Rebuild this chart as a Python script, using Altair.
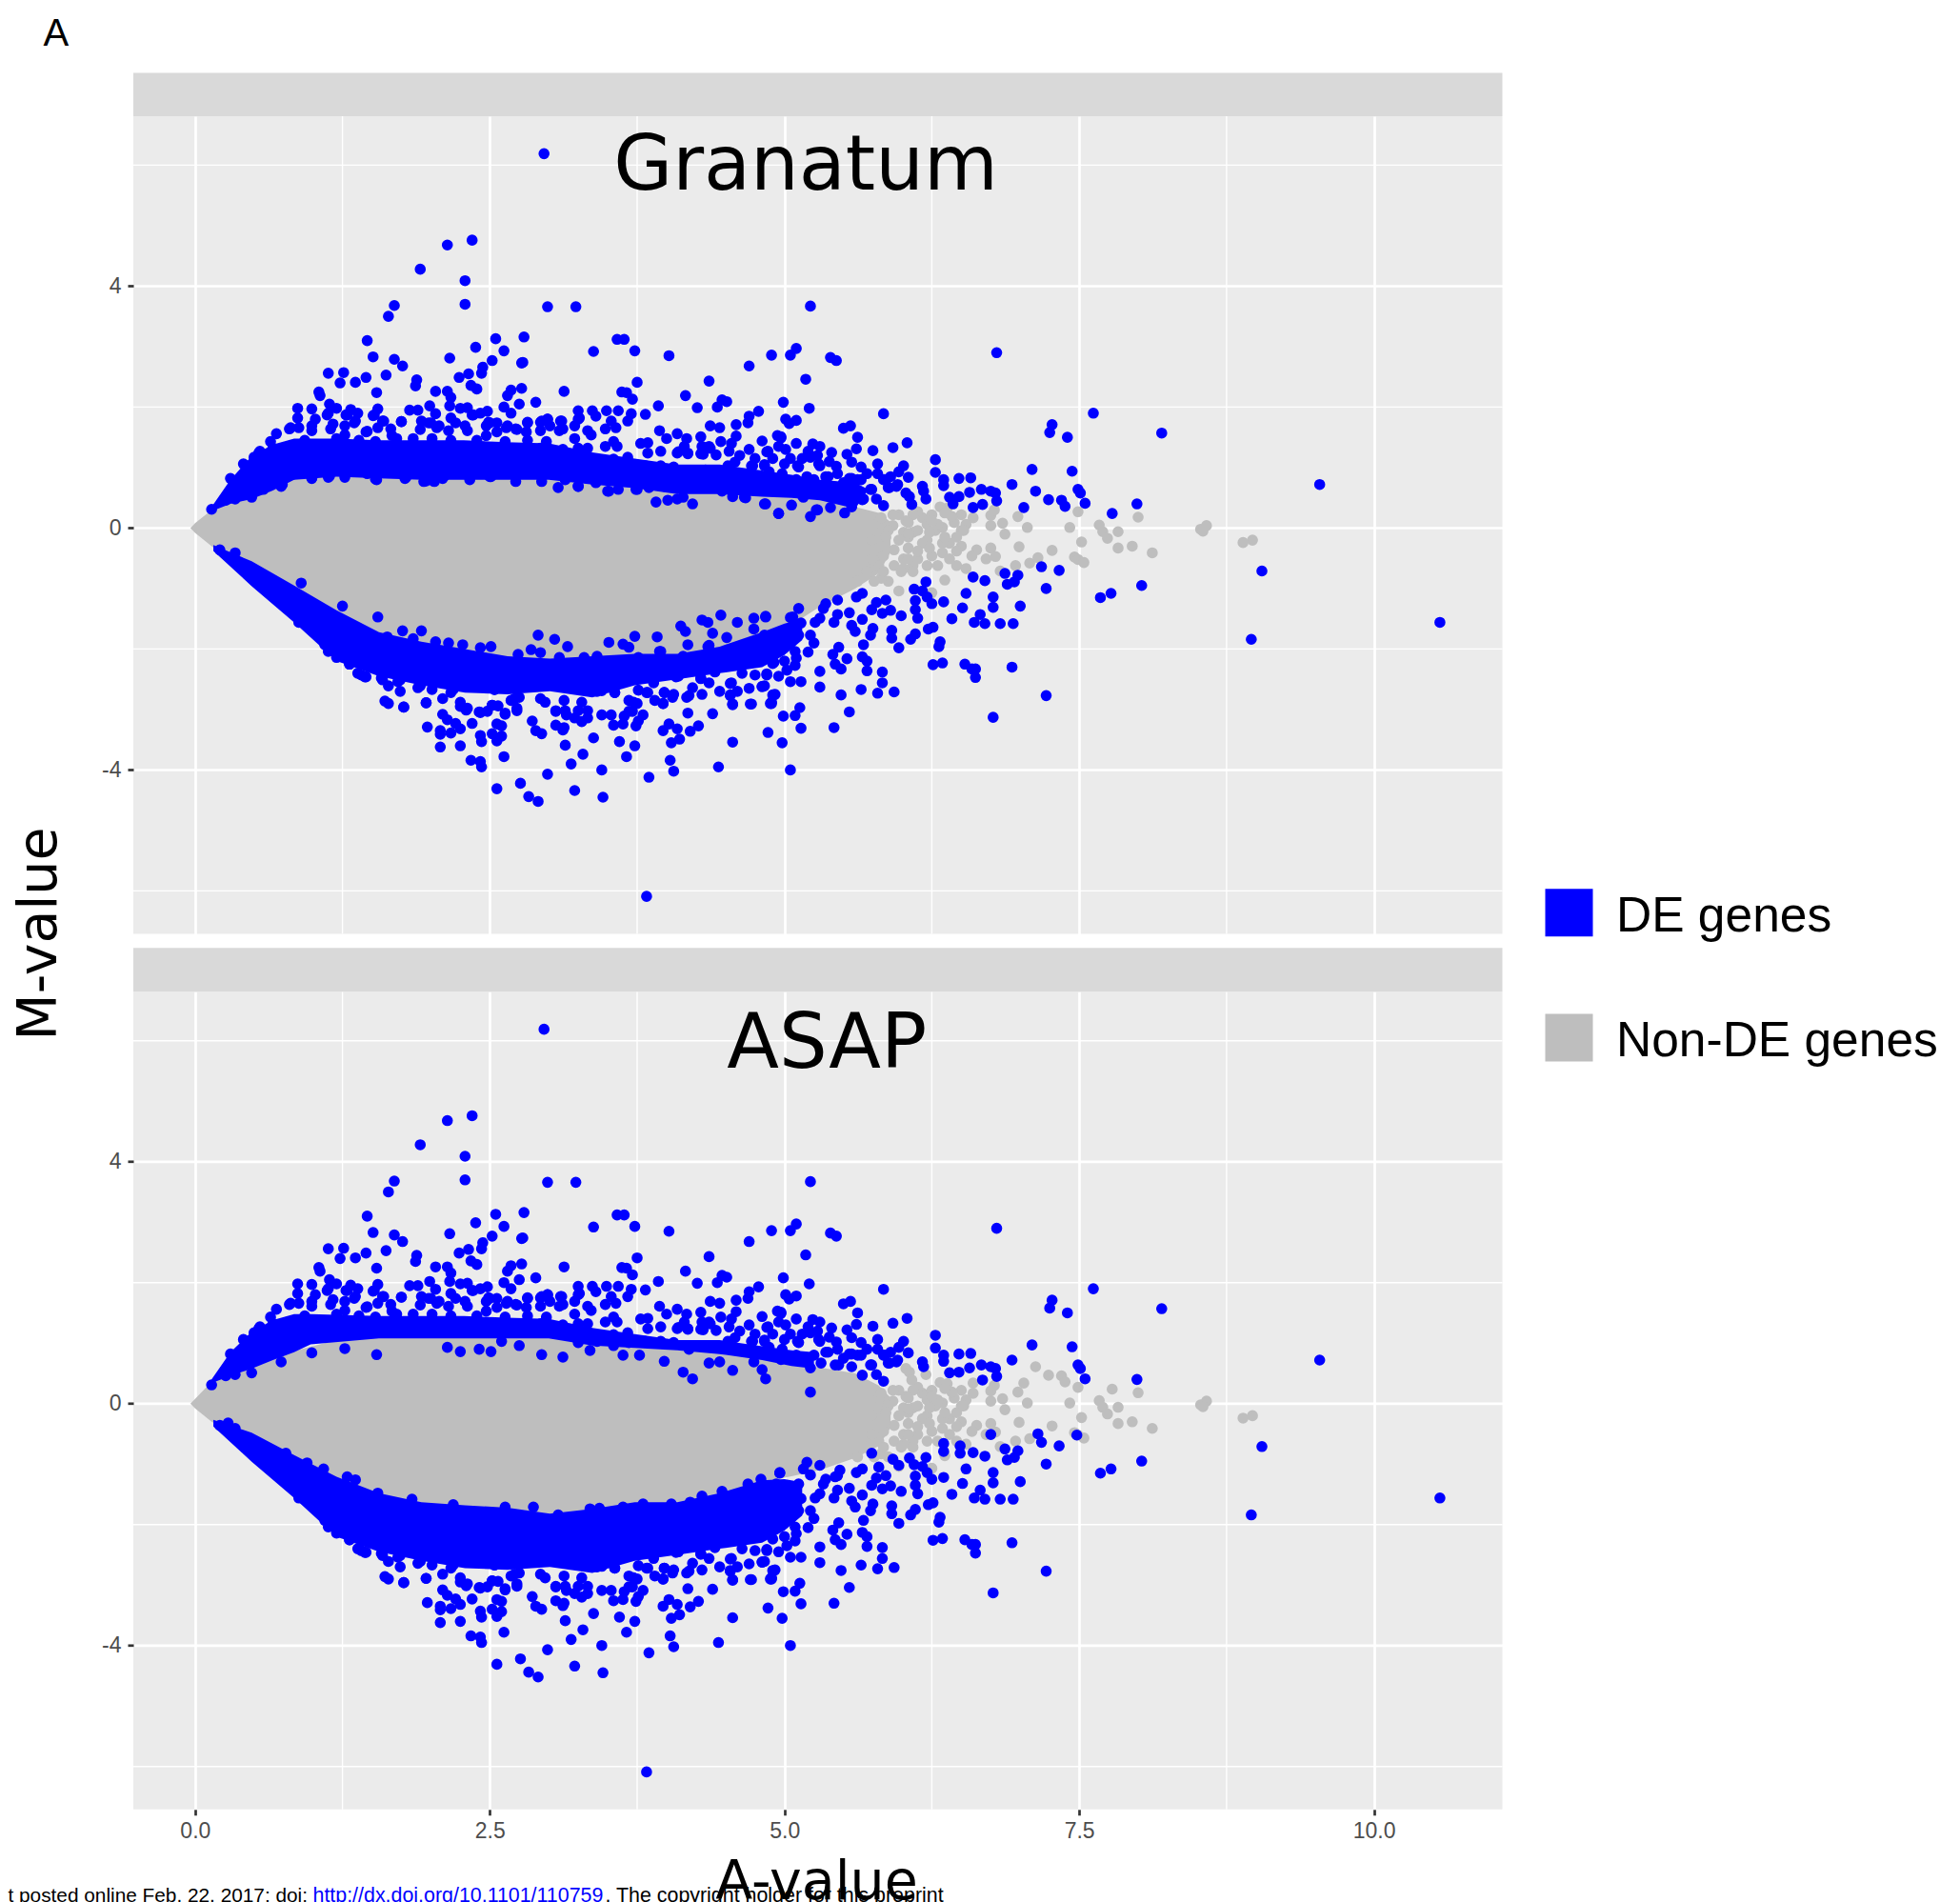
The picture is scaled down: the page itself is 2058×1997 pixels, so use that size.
import altair as alt
import pandas as pd

# ---- points that are DE (blue) in both panels: upper side
blue_upper = [
(2.96,6.19),(2.35,4.76),(2.14,4.68),(1.91,4.28),(2.29,4.09),(2.29,3.70),(1.69,3.68),(1.64,3.50),(2.99,3.66),(3.23,3.66),
(1.46,3.10),(2.55,3.13),(2.79,3.16),(2.38,2.99),(2.62,2.93),(1.51,2.83),(1.69,2.79),(1.76,2.68),(2.16,2.81),(2.52,2.77),
(2.77,2.73),(2.78,2.74),(2.44,2.66),(2.43,2.56),(3.38,2.92),(3.58,3.12),(3.64,3.12),(3.73,2.93),(4.02,2.85),(4.89,2.86),
(5.05,2.86),(4.70,2.68),(1.13,2.56),(1.26,2.57),(1.23,2.40),(1.36,2.41),(1.45,2.49),(1.62,2.53),(1.88,2.45),(1.87,2.35),
(2.24,2.49),(2.32,2.55),(2.34,2.36),(2.39,2.30),(2.04,2.26),(2.14,2.26),(2.17,2.16),(1.05,2.25),(1.06,2.19),(1.54,2.24),
(2.77,2.31),(2.68,2.28),(2.65,2.19),(2.89,2.08),(2.75,2.05),(2.62,2.00),(3.13,2.26),(3.75,2.41),(3.62,2.25),(3.66,2.24),
(3.71,2.13),(4.36,2.43),(4.16,2.19),(4.26,1.99),(3.93,2.02),(4.47,2.12),(4.51,2.09),(4.43,2.00),(4.99,2.08),(4.78,1.93),
(4.70,1.85),(4.69,1.74),(4.59,1.71),(5.01,1.80),(0.87,1.98),(0.87,1.82),(0.99,1.97),(1.14,2.05),(1.13,1.90),(1.20,1.98),
(1.32,1.96),(1.29,1.87),(1.38,1.90),(1.55,1.97),(1.52,1.87),(1.82,1.95),(1.89,1.95),(1.99,2.02),(2.04,1.89),(2.16,2.02),
(2.17,1.82),(2.25,1.98),(2.31,1.99),(2.36,1.87),(2.48,1.93),(2.42,1.90),(2.68,1.90),(3.25,1.94),(3.26,1.82),(3.37,1.94),
(3.40,1.85),(3.49,1.94),(3.59,1.94),(3.53,1.77),(3.70,1.89),(3.67,1.77),(3.82,1.88),(1.75,1.76),(1.60,1.77),(1.36,1.77),
(1.02,1.80),(2.49,1.75),(2.82,1.75),(2.99,1.80),(3.11,1.77),(2.93,1.75),(3.94,1.61),(4.00,1.48),(4.09,1.56),(4.17,1.48),
(4.29,1.51),(4.37,1.69),(4.45,1.66),(4.46,1.43),(4.59,1.52),(4.81,1.44),(4.94,1.53),(4.97,1.51),(4.53,1.27),(4.85,1.26),
(5.01,1.30),(0.69,1.56),(0.64,1.43),(0.81,1.66),(0.88,1.66),(0.99,1.69),(1.17,1.72),(1.27,1.69),(1.45,1.59),(1.67,1.53),
(1.92,1.77),(2.00,1.74),(2.07,1.69),(2.21,1.74),(2.29,1.69),(2.47,1.69),(2.56,1.74),(2.65,1.69),(2.72,1.64),(2.81,1.59),
(3.01,1.69),(3.12,1.64),(3.22,1.69),(3.36,1.54),(3.48,1.64),(3.57,1.66),(3.48,1.35),(3.55,1.43),(3.58,1.35),(3.78,1.40),
(3.84,1.41),(4.09,1.24),(4.18,1.24),(4.36,1.35),(4.31,1.22),(4.58,1.09),(4.83,1.05),(4.72,1.03),
(0.14,0.31),(0.26,0.46),(0.34,0.48),(0.48,0.51),(0.73,0.69),(0.30,0.82),(0.41,1.06),(0.55,1.27),
(1.12,1.87),(1.28,1.87),(1.35,1.74),(1.51,1.86),(1.59,1.77),(1.75,1.76),(1.98,1.74),(2.35,1.87),(2.50,1.74),(2.82,1.74),
(2.94,1.77),(2.99,1.80),(3.10,1.77),(3.25,1.80),(0.80,1.64),(0.99,1.61),(1.15,1.64),(1.27,1.54),(1.46,1.60),(1.55,1.66),
(1.66,1.64),(1.91,1.63),(2.05,1.66),(2.15,1.61),(2.31,1.61),(2.47,1.53),(2.56,1.59),(2.64,1.66),(2.73,1.63),(2.93,1.61),
(3.09,1.61),(3.33,1.61),(0.93,1.45),(1.20,1.48),(1.39,1.45),(1.53,1.43),(1.71,1.48),(1.85,1.48),(2.01,1.48),(2.17,1.45),
(2.39,1.45),(2.63,1.43),(2.82,1.45),(2.98,1.43),(3.22,1.48),(0.54,1.24),(0.50,1.17),(0.66,1.32),(0.80,1.22),(1.04,1.27),
(1.26,1.30),(1.42,1.27),(1.63,1.30),(1.80,1.30),(1.96,1.27),(2.23,1.30),(2.50,1.30),(2.74,1.27),(2.93,1.32),(3.12,1.30),
(3.33,1.32),(3.25,1.32),(3.33,1.19),(3.55,1.14),(3.67,1.17),(3.95,1.27),(3.84,1.24),(4.10,1.26),(4.18,1.23),(4.29,1.23),
(4.37,1.32),(4.42,1.21),(3.25,1.01),(3.41,1.03),(3.55,0.96),(3.68,1.01),(3.82,1.03),(3.95,1.03),(4.06,1.01),(4.19,0.90),
(4.33,0.96),(4.52,1.03),(4.73,1.03),(4.83,1.03),(4.87,0.93),(5.00,1.06),(5.11,1.03),
(4.62,1.20),(4.75,1.15),(4.90,1.15),(5.05,1.15),(4.30,1.35),(4.15,1.35),(4.55,1.40),(4.70,1.30),(4.95,1.35),
]

# ---- upper side, x > 5
blue_upper_right = [
(5.22,3.67),(5.10,2.97),(5.39,2.82),(5.44,2.77),(6.80,2.90),(5.18,2.46),(5.21,1.98),(5.84,1.89),(7.62,1.90),(5.04,1.73),
(5.10,1.78),(5.50,1.65),(5.56,1.69),(7.27,1.71),(7.25,1.58),(7.40,1.50),(8.20,1.57),(4.97,1.49),(5.62,1.50),(5.61,1.31),
(5.24,1.39),(5.75,1.28),(5.92,1.33),(6.04,1.41),(4.86,1.27),(5.20,1.27),(5.22,1.17),(5.53,1.22),(5.57,1.09),(5.65,1.01),
(5.44,1.02),(5.79,1.06),(5.79,0.90),(6.01,1.03),(5.97,0.93),(6.05,0.84),(6.28,1.13),(6.28,0.92),(6.35,0.80),(6.35,0.70),
(6.48,0.82),(6.58,0.83),(7.10,0.97),(7.44,0.94),(6.93,0.72),(7.49,0.64),(7.51,0.58),(7.55,0.41),(7.99,0.40),(9.54,0.72),
(6.17,0.69),(6.18,0.61),(6.40,0.51),(6.48,0.52),(6.57,0.59),(6.67,0.64),(6.75,0.61),(6.79,0.58),(6.80,0.45),(6.68,0.39),
(5.84,0.37),(5.78,0.48),(5.66,0.47),(5.22,0.19),(4.98,0.90),(5.12,1.01),(5.29,1.06),(5.37,0.85),(5.55,0.82),(5.62,0.80),
(5.31,0.67),(5.43,0.64),(5.88,0.67),(5.95,0.69),(5.84,0.80),(5.74,0.64),(5.22,0.59),(5.30,1.03),(5.35,0.85),(5.46,0.64),
(5.57,0.61),(5.57,0.82),(5.65,0.80),(5.85,0.80),(5.89,0.67),(5.96,0.72),(5.73,0.64),
(5.15,1.15),(5.28,1.20),(5.38,1.10),(5.45,0.90),(5.25,0.80),(5.10,0.80),(5.50,0.75),(5.70,0.90),(5.90,0.85),(5.10,1.40),
(5.30,1.35),(5.40,1.25),
]

# ---- lower side, x > 4.8
blue_lower_right = [
(7.18,-0.64),(7.33,-0.70),(9.05,-0.71),(6.60,-0.81),(6.70,-0.87),(6.87,-0.75),(6.98,-0.78),(6.95,-0.89),(6.89,-0.93),(7.22,-1.00),
(8.03,-0.95),(7.68,-1.15),(7.77,-1.08),(6.20,-0.89),(6.10,-1.01),(6.17,-1.04),(6.21,-1.14),(6.25,-1.25),(6.35,-1.22),(6.54,-1.08),
(6.77,-1.14),(6.77,-1.31),(6.51,-1.32),(7.00,-1.29),(6.42,-1.50),(6.66,-1.43),(6.61,-1.56),(6.70,-1.58),(6.83,-1.58),(6.94,-1.58),
(6.11,-1.20),(6.11,-1.35),(6.13,-1.49),(5.99,-1.45),(5.90,-1.36),(5.83,-1.41),(5.78,-1.23),(5.86,-1.19),(5.74,-1.35),(5.66,-1.08),
(5.61,-1.14),(5.45,-1.19),(5.35,-1.25),(5.33,-1.33),(5.55,-1.40),(5.45,-1.43),(5.42,-1.56),(5.30,-1.49),(5.26,-1.56),(5.14,-1.57),
(5.07,-1.47),(5.12,-1.33),(4.84,-1.46),(5.66,-1.51),(5.57,-1.61),(5.60,-1.71),(5.75,-1.66),(5.73,-1.77),(5.91,-1.69),(5.91,-1.82),
(5.67,-1.93),(5.97,-1.98),(6.11,-1.75),(6.07,-1.84),(6.22,-1.67),(6.26,-1.64),(6.32,-1.88),(6.31,-1.96),(5.46,-1.97),(5.41,-2.09),
(5.53,-2.16),(5.43,-2.25),(5.48,-2.33),(5.66,-2.13),(5.70,-2.20),(5.70,-2.36),(5.83,-2.38),(5.83,-2.56),(5.79,-2.73),(5.93,-2.71),
(5.65,-2.67),(5.48,-2.76),(5.30,-2.63),(5.30,-2.37),(5.14,-2.54),(5.05,-2.54),(5.02,-2.35),(5.09,-2.27),(5.09,-2.04),(4.90,-2.24),
(4.85,-2.12),(4.85,-2.41),(4.83,-2.61),(4.90,-2.76),(4.88,-2.90),(5.13,-2.97),(5.09,-3.10),(4.99,-3.11),(5.55,-3.04),(5.14,-3.31),
(5.42,-3.30),(4.86,-3.38),(4.98,-3.55),(6.77,-3.13),(7.22,-2.77),(6.93,-2.30),(8.96,-1.84),(10.56,-1.56),(6.26,-2.26),(6.34,-2.23),
(6.53,-2.25),(6.59,-2.33),(6.62,-2.33),(6.62,-2.47),(5.22,-1.77),(5.12,-1.77),(4.98,-1.77),(4.89,-1.80),(4.83,-1.77),(4.93,-1.93),
(5.00,-1.75),(5.05,-1.90),(5.10,-2.15),(5.20,-2.05),(5.25,-1.90),(5.00,-2.20),(4.95,-2.45),
]

# ---- lower side, x < 4.8
blue_lower = [
(3.83,-6.09),(2.56,-4.31),(2.76,-4.22),(2.83,-4.44),(2.91,-4.52),(3.22,-4.34),(3.46,-4.45),(3.85,-4.12),(2.99,-4.07),(3.45,-4.00),
(3.19,-3.90),(3.29,-3.74),(3.66,-3.78),(3.73,-3.60),(3.60,-3.53),(3.38,-3.47),(3.14,-3.59),(4.06,-4.02),(4.03,-3.84),(4.44,-3.95),
(5.05,-4.00),(4.56,-3.54),(4.04,-3.55),(4.11,-3.49),(4.39,-3.07),(4.18,-3.06),(4.27,-3.27),(4.20,-3.36),(3.97,-3.35),(4.02,-3.24),
(4.09,-3.32),(3.80,-3.09),(3.76,-3.19),(3.74,-3.27),(3.64,-3.11),(3.63,-3.24),(3.55,-3.26),(3.45,-3.09),(3.53,-3.09),(3.28,-3.20),
(3.33,-3.14),(3.06,-3.26),(3.13,-3.30),(3.12,-3.34),(2.86,-3.19),(2.89,-3.35),(2.94,-3.40),(2.42,-3.86),(2.34,-3.84),(2.43,-3.95),
(2.62,-3.78),(2.25,-3.60),(2.08,-3.62),(1.97,-3.29),(2.08,-3.35),(2.08,-3.41),(2.17,-3.39),(2.25,-3.32),(2.21,-3.23),(2.14,-3.17),
(2.10,-3.08),(2.35,-3.23),(2.42,-3.43),(2.43,-3.53),(2.52,-3.40),(2.56,-3.52),(2.60,-3.44),(2.56,-3.24),(2.60,-3.27),(1.96,-2.89),
(1.77,-2.96),(1.61,-2.86),(1.64,-2.90),(2.41,-3.04),(2.48,-3.03),(2.52,-2.93),(2.57,-2.94),(2.63,-3.08),(2.73,-2.98),(2.68,-2.85),
(2.75,-2.80),(2.54,-2.67),(2.28,-2.54),(2.19,-2.67),(2.25,-2.95),(2.30,-3.01),(2.10,-2.82),(4.72,-2.91),(4.56,-2.92),(4.54,-2.77),
(4.55,-2.56),(4.89,-2.90),(4.91,-2.76),(4.81,-2.62),(3.97,-2.90),(3.98,-2.72),(4.05,-2.80),(4.17,-2.80),(3.84,-2.72),(3.76,-2.68),
(3.68,-2.85),(3.75,-2.90),(3.71,-3.03),(3.56,-2.72),(3.45,-2.69),(3.28,-2.88),(3.13,-2.85),(3.06,-3.03),(3.15,-3.09),(3.22,-3.14),
(2.97,-2.88),(4.36,-2.56),(4.29,-2.49),(4.10,-2.45),(4.22,-2.64),(3.89,-2.56),(3.67,-2.46),(3.48,-2.51),(3.60,-2.54),(3.08,-2.54),
(1.38,-2.40),(1.44,-2.46),(1.59,-2.51),(1.74,-2.51),(1.64,-2.61),(1.89,-2.64),(2.07,-2.54),
(0.21,-0.36),(0.34,-0.41),(0.48,-0.73),(0.66,-1.04),(0.88,-1.56),(1.13,-2.04),(1.31,-2.25),
(1.10,-1.93),(1.20,-2.14),(1.31,-2.25),(1.41,-2.43),(1.45,-2.46),(1.58,-2.48),(1.72,-2.54),(1.91,-2.61),(1.74,-2.30),(2.01,-2.35),
(2.17,-2.43),(2.39,-2.46),(2.55,-2.40),(2.68,-2.43),(2.82,-2.51),(2.98,-2.35),(3.14,-2.35),(3.30,-2.40),(3.47,-2.48),(3.68,-2.46),
(3.76,-2.35),(3.90,-2.38),(4.08,-2.46),(4.29,-2.48),(4.41,-2.38),(4.64,-2.40),(4.75,-2.43),(4.85,-2.43),(1.77,-2.96),(1.96,-2.89),
(1.74,-2.70),(2.01,-2.67),(2.17,-2.72),(2.28,-2.56),(2.25,-2.88),(2.31,-2.98),(2.42,-3.05),(2.52,-2.93),(2.63,-3.06),(2.73,-3.02),
(2.71,-2.82),(2.54,-2.67),(2.93,-2.82),(3.06,-3.02),(3.14,-3.02),(3.25,-3.02),(3.33,-3.02),(3.41,-2.70),(3.56,-2.72),(3.72,-2.88),
(3.68,-3.03),(3.83,-2.72),(3.98,-2.72),(3.97,-2.90),(4.06,-2.75),(4.19,-2.77),(4.54,-2.57),(4.54,-2.76),(4.56,-2.91),(4.71,-2.91),
(4.81,-2.62),(4.89,-2.88),(4.92,-2.75),(4.70,-2.65),(4.60,-2.70),(4.30,-2.75),(4.45,-2.70),(3.90,-2.85),
]

# ---- DE only in the Granatum panel
blue_granatum = [
(0.99,0.82),(1.13,0.84),(1.27,0.84),(1.54,0.80),(1.78,0.82),(1.94,0.77),(2.03,0.77),(2.10,0.82),(2.33,0.80),(2.50,0.85),
(2.72,0.77),(2.94,0.77),(3.08,0.67),(3.25,0.69),(3.50,0.61),(3.59,0.64),(3.75,0.64),(3.91,0.43),(4.01,0.46),(4.22,0.40),
(4.09,0.48),(4.56,0.52),(4.67,0.50),(4.84,0.40),(4.95,0.24),(4.34,0.67),(4.47,0.61),
(7.13,0.61),(7.24,0.47),(7.35,0.46),(7.38,0.36),(7.03,0.34),(7.78,0.24),(6.03,0.58),(6.06,0.52),(6.20,0.48),(6.08,0.39),
(6.43,0.40),(6.60,0.34),(5.51,0.25),(4.95,0.24),(5.06,0.38),(5.39,0.34),(5.27,0.30),(5.16,0.51),(4.83,0.40),
(0.44,1.01),(0.64,1.06),(0.85,1.04),(0.97,1.04),(1.15,1.06),(1.31,1.06),(1.47,1.06),(1.71,1.06),(1.88,1.06),(2.07,1.11),
(2.25,1.06),(2.42,1.11),(2.60,1.11),(2.82,1.06),(3.03,1.09),(3.28,1.09),(0.40,0.85),(0.57,0.85),(0.74,0.72),(0.83,0.89),
(0.99,0.83),(1.14,0.86),(1.34,0.98),(1.46,0.90),(1.53,0.81),(1.79,0.84),(1.96,0.78),(2.02,0.78),(2.11,0.85),(2.51,0.85),
(3.14,0.80),(0.48,0.54),(0.58,0.64),(3.40,0.75),(3.51,0.61),(3.74,0.64),(3.85,0.67),(3.98,0.69),(4.19,0.75),(4.46,0.67),
(4.62,0.85),(4.62,0.64),(4.81,0.67),(5.00,0.67),(5.19,0.85),(3.25,0.69),(4.14,0.51),(4.66,0.51),(5.15,0.54),(5.28,0.30),
(5.57,0.35),(5.67,0.48),
(0.90,-0.91),(1.25,-1.29),(1.55,-1.47),(1.76,-1.70),(1.92,-1.70),(2.91,-1.77),(3.05,-1.84),(3.16,-1.96),(3.51,-1.89),(3.73,-1.79),
(3.92,-1.80),(3.63,-1.92),(3.68,-1.97),(4.12,-1.62),(4.16,-1.71),(4.30,-1.52),(4.35,-1.56),(4.39,-1.74),(4.46,-1.44),(4.60,-1.56),
(4.74,-1.49),(4.84,-1.47),(4.51,-1.81),(4.74,-1.67),(5.05,-1.48),(4.18,-1.93),(4.36,-1.94),(3.94,-2.04),
(1.63,-1.80),(1.85,-1.83),(2.04,-1.88),(2.15,-1.90),(2.27,-1.93),(2.51,-1.96),(2.42,-1.98),(2.74,-2.09),(2.85,-2.01),(2.93,-2.06),
(3.09,-2.14),(3.30,-2.14),(3.41,-2.12),(3.76,-2.14),(3.95,-2.04),(4.14,-2.12),(4.22,-2.22),(4.35,-1.96),(4.49,-2.04),(4.65,-2.09),
(4.81,-2.14),(4.91,-2.22),
]

# ---- DE only in the ASAP panel
blue_asap = [
(0.99,0.84),(1.27,0.91),(1.54,0.81),(2.14,0.93),(2.25,0.86),(2.41,0.90),(2.51,0.86),(2.60,1.03),(2.75,0.96),(2.94,0.81),
(3.12,0.77),(3.35,0.88),(3.63,0.80),(3.77,0.80),(3.98,0.70),(4.14,0.52),(4.22,0.41),(4.56,0.55),(4.84,0.41),(4.36,0.67),
(4.45,0.69),(4.97,0.73),(4.81,0.56),(4.74,0.69),
(1.55,-1.48),(1.84,-1.58),(2.19,-1.67),(2.63,-1.71),(2.87,-1.71),(3.08,-1.84),(3.35,-1.74),(3.43,-1.73),(3.63,-1.71),(3.80,-1.66),
(4.04,-1.66),(4.30,-1.53),(4.47,-1.45),(4.69,-1.33),(4.80,-1.25),(4.93,-1.33),(4.96,-1.15),(4.60,-1.58),(4.20,-1.63),(0.28,-0.32),
(0.77,-0.82),(0.95,-0.98),(1.09,-1.08),(1.29,-1.21),(1.36,-1.26),
(6.75,-0.51),(7.15,-0.50),(7.48,-0.52),(5.74,-0.82),(6.35,-0.66),(6.35,-0.79),(6.49,-0.70),(6.49,-0.82),(5.92,-0.92),(5.97,-1.02),
(6.06,-0.90),(5.19,-0.97),(5.30,-1.02),(4.96,-1.14),(5.22,-1.18),(5.43,-1.21),(5.80,-1.05),(5.47,-1.10),(5.16,-1.08),
]

# ---- non-DE tail, both panels
grey_tail = [
(7.49,0.27),(8.00,0.18),(6.98,0.19),(6.85,0.08),(7.06,0.01),(6.75,0.04),(6.75,0.21),(6.78,0.30),(6.60,0.17),(7.42,0.01),
(7.67,0.05),(7.70,-0.06),(7.74,-0.17),(7.83,-0.06),(6.87,-0.10),(7.52,-0.23),(7.27,-0.37),(6.99,-0.31),(7.83,-0.33),(7.95,-0.30),
(8.12,-0.41),(8.53,-0.02),(8.58,0.04),(8.55,-0.05),(8.97,-0.20),(8.89,-0.24),(7.46,-0.48),(7.49,-0.52),(7.54,-0.57),(7.08,-0.58),
(6.96,-0.62),(6.83,-0.71),(6.79,-0.47),(6.71,-0.51),(6.63,-0.36),(6.75,-0.33),(6.50,-0.04),(6.44,0.09),(6.38,0.33),(6.32,0.35),
(6.17,0.17),(6.03,0.12),(5.92,0.04),(6.28,-0.04),(6.01,-0.07),(6.09,-0.07),(6.21,-0.20),(6.40,-0.25),(6.05,-0.33),(6.34,-0.41),
(6.46,-0.62),(6.54,-0.67),(6.36,-0.86),(6.25,-1.07),(5.97,-1.04),(5.88,-0.88),(5.82,-0.83),(5.80,0.09),(5.74,-0.20),(6.13,0.27),
(6.25,0.22),(6.50,0.22),(6.54,0.06),(6.34,0.01),(6.21,0.06),(6.09,0.22),(5.97,0.22),(5.88,-0.04),(6.05,-0.15),(6.17,-0.25),
(6.34,-0.25),(6.50,-0.30),(6.59,-0.46),(6.25,-0.46),(6.13,-0.51),(6.01,-0.51),(5.93,-0.36),(6.46,-0.38),(6.21,-0.62),(6.09,-0.62),
(6.01,-0.67),(5.82,0.17),(5.86,-0.15),(5.97,-0.20),(6.05,0.09),(6.13,-0.04),(6.23,-0.07),(6.30,0.06),(6.36,-0.15),(6.46,-0.15),
(6.52,-0.04),(6.42,0.19),(6.36,0.25),(6.25,0.12),(6.05,-0.09),(5.92,0.22),(5.84,-0.46),(5.93,-0.62),(5.99,-0.72),(5.80,-0.62),
(5.74,-0.51),(5.70,-0.72),(5.84,-0.72),(5.76,-0.88),(5.62,-0.88),(6.05,-0.51),(6.13,-0.38),(6.23,-0.33),(6.40,-0.51),(6.30,-0.62),
(6.09,-0.72),
]
grey_granatum = [(7.15,-0.49)]
grey_asap = [(7.13,0.61),(7.24,0.47),(7.35,0.46),(7.38,0.36),(7.03,0.34),(7.78,0.24),(6.03,0.58),(6.06,0.52),(6.20,0.48),(6.08,0.39),(6.60,0.34)]

# ---- dense masses, read as x / lower edge / upper edge
mass_x_g =      [-0.04,0.0,0.14,0.30,0.48,0.84,1.20,1.56,1.92,2.29,2.65,3.01,3.37,3.73,4.09,4.45,4.81,5.06,5.30,5.60,5.80,5.90]
mass_low_g =    [0,-0.08,-0.30,-0.50,-0.75,-1.10,-1.45,-1.75,-1.90,-2.02,-2.15,-2.20,-2.15,-2.10,-2.10,-2.00,-1.75,-1.60,-1.30,-1.00,-0.75,-0.40]
mass_high_g =   [0,0.08,0.30,0.45,0.60,0.85,0.90,0.90,0.90,0.90,0.90,0.85,0.80,0.70,0.60,0.60,0.55,0.55,0.50,0.35,0.25,0.10]
mass_low_a =    [0,-0.08,-0.30,-0.45,-0.65,-0.95,-1.25,-1.50,-1.65,-1.70,-1.75,-1.85,-1.80,-1.75,-1.70,-1.50,-1.30,-1.20,-1.10,-0.90,-0.70,-0.40]
mass_high_a =   [0,0.08,0.36,0.48,0.60,0.87,1.05,1.12,1.12,1.12,1.10,1.10,1.00,0.95,0.90,0.85,0.75,0.65,0.60,0.50,0.30,0.10]

up_x_g =   [0.14,0.30,0.48,0.66,0.84,1.20,1.56,1.92,2.28,2.64,3.00,3.37,3.73,4.09,4.45,4.81,5.06,5.30,5.60,5.70]
up_lo_g =  [0.28,0.40,0.48,0.62,0.80,0.85,0.82,0.80,0.80,0.80,0.80,0.72,0.66,0.56,0.56,0.52,0.50,0.46,0.32,0.60]
up_hi_g =  [0.35,0.80,1.19,1.38,1.48,1.48,1.45,1.45,1.45,1.42,1.40,1.25,1.15,1.05,1.05,0.95,0.88,0.80,0.75,0.65]
up_x_a =   [0.14,0.30,0.48,0.66,0.84,0.98,1.56,1.92,2.28,2.64,3.00,3.37,3.73,4.09,4.45,4.81,5.06,5.25]
up_lo_a =  [0.34,0.46,0.58,0.72,0.85,0.98,1.08,1.08,1.08,1.08,1.08,0.96,0.92,0.88,0.82,0.72,0.62,0.58]
up_hi_a =  [0.40,0.85,1.19,1.38,1.48,1.48,1.45,1.45,1.45,1.42,1.40,1.25,1.15,1.05,1.05,0.95,0.88,0.85]

lo_x =     [0.155,0.48,0.84,1.20,1.56,1.92,2.29,2.65,3.01,3.37,3.73,4.09,4.45,4.81,5.00,5.15]
lo_bot =   [-0.38,-0.96,-1.56,-2.20,-2.45,-2.60,-2.72,-2.75,-2.70,-2.80,-2.60,-2.50,-2.40,-2.30,-2.10,-1.85]
lo_top_g = [-0.28,-0.55,-0.95,-1.36,-1.72,-1.88,-2.00,-2.12,-2.16,-2.12,-2.08,-2.08,-1.96,-1.72,-1.58,-1.50]
lo_top_a = [-0.27,-0.48,-0.85,-1.21,-1.48,-1.63,-1.68,-1.72,-1.82,-1.74,-1.63,-1.63,-1.48,-1.27,-1.25,-1.30]

x_major = [0, 2.5, 5, 7.5, 10]
x_minor = [1.25, 3.75, 6.25, 8.75]
y_major = [-4, 0, 4]
y_minor = [-6, -2, 2, 6]
legend_names = ["DE genes", "Non-DE genes"]

BLUE, GREY = "#0000FF", "#BEBEBE"
W, H = 1437.5, 858.5
FONT = "Liberation Sans"
DV = "DejaVu Sans"
xs = alt.Scale(domain=[-0.524, 11.09], nice=False, zero=False)
ys = alt.Scale(domain=[-6.71, 6.81], nice=False, zero=False)
one = alt.Data(values=[{"k": 1}])


def P(rows):
    return pd.DataFrame(rows, columns=["a", "m"])


def pts(rows, color):
    return alt.Chart(P(rows)).mark_circle(color=color, size=135, opacity=1, stroke=None, clip=True).encode(
        x=alt.X("a:Q", scale=xs, title=None),
        y=alt.Y("m:Q", scale=ys, title=None),
    )


def mass(xv, lo, hi, color):
    df = pd.DataFrame({"a": xv, "lo": lo, "hi": hi})
    return alt.Chart(df).mark_area(color=color, opacity=1).encode(
        x=alt.X("a:Q", scale=xs, title=None),
        y=alt.Y("lo:Q", scale=ys, title=None),
        y2="hi:Q",
    )


def label(text, x, y, size, font=FONT, color="black", align="left", angle=0):
    return alt.Chart(one).mark_text(
        text=text, font=font, fontSize=size, color=color, align=align, baseline="alphabetic", angle=angle
    ).encode(x=alt.value(x), y=alt.value(y))


def box(x, x2, y, y2, color, opacity=1):
    return alt.Chart(one).mark_rect(color=color, opacity=opacity).encode(
        x=alt.value(x), x2=alt.value(x2), y=alt.value(y), y2=alt.value(y2)
    )


def base(show_x):
    x_axis = alt.Axis(
        values=x_major, grid=True, gridColor="white", gridWidth=2.7, domain=False, title=None,
        labels=show_x, ticks=show_x, tickColor="#333333", tickWidth=2.7, tickSize=6,
        labelFont=FONT, labelFontSize=23, labelColor="#4D4D4D", labelPadding=6,
        labelExpr="format(datum.value,'.1f')",
    )
    y_axis = alt.Axis(
        values=y_major, grid=True, gridColor="white", gridWidth=2.7, domain=False, title=None,
        ticks=True, tickColor="#333333", tickWidth=2.7, tickSize=6,
        labelFont=FONT, labelFontSize=23, labelColor="#4D4D4D", labelPadding=7,
        labelExpr="'' + datum.value",
    )
    axes = alt.Chart(P([(0, 0)])).mark_point(opacity=0).encode(
        x=alt.X("a:Q", scale=xs, axis=x_axis),
        y=alt.Y("m:Q", scale=ys, axis=y_axis),
    )
    vr = alt.Chart(pd.DataFrame({"v": x_minor})).mark_rule(color="white", strokeWidth=1.35).encode(
        x=alt.X("v:Q", scale=xs, title=None)
    )
    hr = alt.Chart(pd.DataFrame({"v": y_minor})).mark_rule(color="white", strokeWidth=1.35).encode(
        y=alt.Y("v:Q", scale=ys, title=None)
    )
    return [axes, vr, hr]


def title_mark(text, x, y):
    return alt.Chart(pd.DataFrame({"a": [x], "m": [y]})).mark_text(
        text=text, font=DV, fontSize=80, color="black", align="center", baseline="alphabetic"
    ).encode(x=alt.X("a:Q", scale=xs, title=None), y=alt.Y("m:Q", scale=ys, title=None))


common_blue = blue_upper + blue_upper_right + blue_lower_right + blue_lower

panel_g = alt.layer(
    *base(False),
    mass(mass_x_g, mass_low_g, mass_high_g, GREY),
    pts(grey_tail + grey_granatum, GREY),
    mass(up_x_g, up_lo_g, up_hi_g, BLUE),
    mass(lo_x, lo_bot, lo_top_g, BLUE),
    pts(common_blue + blue_granatum, BLUE),
    title_mark("Granatum", 5.18, 5.6),
    box(0, W, -45.5, 0, "#D9D9D9"),
    box(-131.5, -130.5, -113.5, -112.5, "white", 0),
    label("A", -94.5, -74.5, 40),
    label("M-value", -81.5, 858.5, 57, font=DV, align="center", angle=270),
    label("A-value", 717.5, 1871.5, 57, font=DV, align="center"),
    label("t posted online Feb. 22, 2017; doi:", -131.5, 1874.5, 20.8),
    label("http://dx.doi.org/10.1101/110759", 188.5, 1874.5, 21.4, color="#0000FF"),
    label(". The copyright holder for this preprint", 495.5, 1874.5, 21.4),
    box(1482.5, 1532.5, 811.2, 861.2, BLUE),
    box(1482.5, 1532.5, 942.5, 992.5, GREY),
    label(legend_names[0], 1557, 855.5, 51.5),
    label(legend_names[1], 1557, 987, 51.5),
).properties(width=W, height=H)

panel_a = alt.layer(
    *base(True),
    mass(mass_x_g, mass_low_a, mass_high_a, GREY),
    pts(grey_tail + grey_asap, GREY),
    mass(up_x_a, up_lo_a, up_hi_a, BLUE),
    mass(lo_x, lo_bot, lo_top_a, BLUE),
    pts(common_blue + blue_asap, BLUE),
    title_mark("ASAP", 5.36, 5.56),
    box(0, W, -46, 0, "#D9D9D9"),
).properties(width=W, height=H)

chart = alt.vconcat(panel_g, panel_a, spacing=60.3, bounds="flush").properties(
    padding=0, background="white"
).configure_view(fill="#EBEBEB", stroke=None)

chart.save("out.html", embed_options={"renderer": "svg", "actions": False})
